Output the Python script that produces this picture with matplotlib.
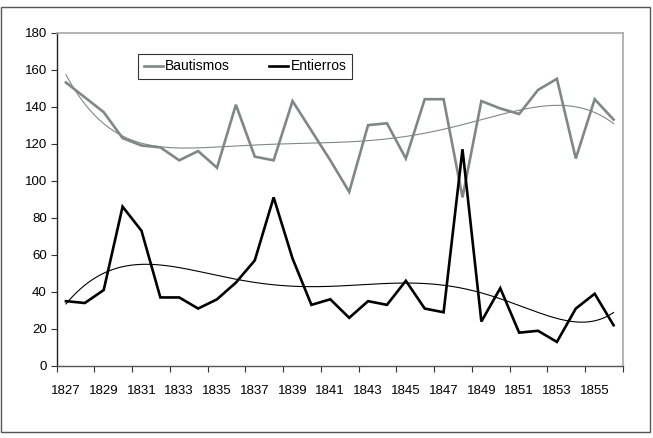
import matplotlib
matplotlib.use("Agg")
import matplotlib.pyplot as plt
from matplotlib.patches import Rectangle
import numpy as np

years = list(range(1827, 1857))
bautismos = [153, 145, 137, 123, 119, 118, 111, 116, 107, 141,
             113, 111, 143, 127, 111, 94, 130, 131, 112, 144,
             144, 91, 143, 139, 136, 149, 155, 112, 144, 133]
entierros = [35, 34, 41, 86, 73, 37, 37, 31, 36, 45,
             57, 91, 58, 33, 36, 26, 35, 33, 46, 31,
             29, 117, 24, 42, 18, 19, 13, 31, 39, 22]
year_labels = [str(y) for y in years[::2]]

GRAY = "#7f8886"

plt.rcParams["font.family"] = ["Liberation Sans", "DejaVu Sans"]
plt.rcParams["font.size"] = 9.5

fig = plt.figure(figsize=(6.53, 4.38), dpi=100)
W, H = 653, 438
ax = fig.add_axes([56.5 / W, 1 - 366 / H, (623 - 56.5) / W, (366 - 32.5) / H])

x = np.arange(len(years)) + 0.5
idx = np.arange(1, len(years) + 1)

# trend lines, polynomial order 6 like the spreadsheet
xs = np.linspace(1, len(years), 300)
tb = np.polyval(np.polyfit(idx, bautismos, 6), xs)
te = np.polyval(np.polyfit(idx, entierros, 6), xs)

ax.plot(x, bautismos, color=GRAY, lw=1.9, label="Bautismos", solid_joinstyle="miter")
ax.plot(xs - 0.5, tb, color=GRAY, lw=0.8)
ax.plot(x, entierros, color="black", lw=1.9, label="Entierros", solid_joinstyle="miter")
ax.plot(xs - 0.5, te, color="black", lw=0.8)

ax.set_xlim(0, len(years))
ax.set_ylim(0, 180)
ax.set_yticks(range(0, 181, 20))
ax.set_xticks(range(0, len(years) + 1, 2))
ax.set_xticklabels([])
ax.set_xticks(x[::2], minor=True)
ax.set_xticklabels(year_labels, minor=True)
ax.tick_params(axis="x", which="major", direction="out", length=4, width=0.8, color="#333333")
ax.tick_params(axis="x", which="minor", length=0, pad=14)
ax.tick_params(axis="y", direction="out", length=4, width=0.8, pad=3, color="#333333")

for s in ["top", "right"]:
    ax.spines[s].set_color("#a8a8a8")
    ax.spines[s].set_linewidth(1.2)
ax.spines["left"].set_color("#222222")
ax.spines["bottom"].set_color("#555555")
ax.spines["left"].set_linewidth(1.0)
ax.spines["bottom"].set_linewidth(1.0)

leg = ax.legend(loc="lower left", ncol=2, mode="expand",
                bbox_to_anchor=(138 / W, 1 - 79 / H, (352 - 138) / W, 20 / H),
                bbox_transform=fig.transFigure, frameon=True, fancybox=False,
                borderpad=0.4, handlelength=1.4, handletextpad=0.15,
                columnspacing=2.0, borderaxespad=0, fontsize=10)
leg.get_frame().set_edgecolor("black")
leg.get_frame().set_linewidth(0.8)

# outer chart border
fig.patches.append(Rectangle((0.5 / W, 1 - 432 / H), 649.5 / W, (432 - 7) / H,
                             transform=fig.transFigure, fill=False,
                             edgecolor="#555555", lw=1.0))

fig.savefig("out.png", dpi=100)
